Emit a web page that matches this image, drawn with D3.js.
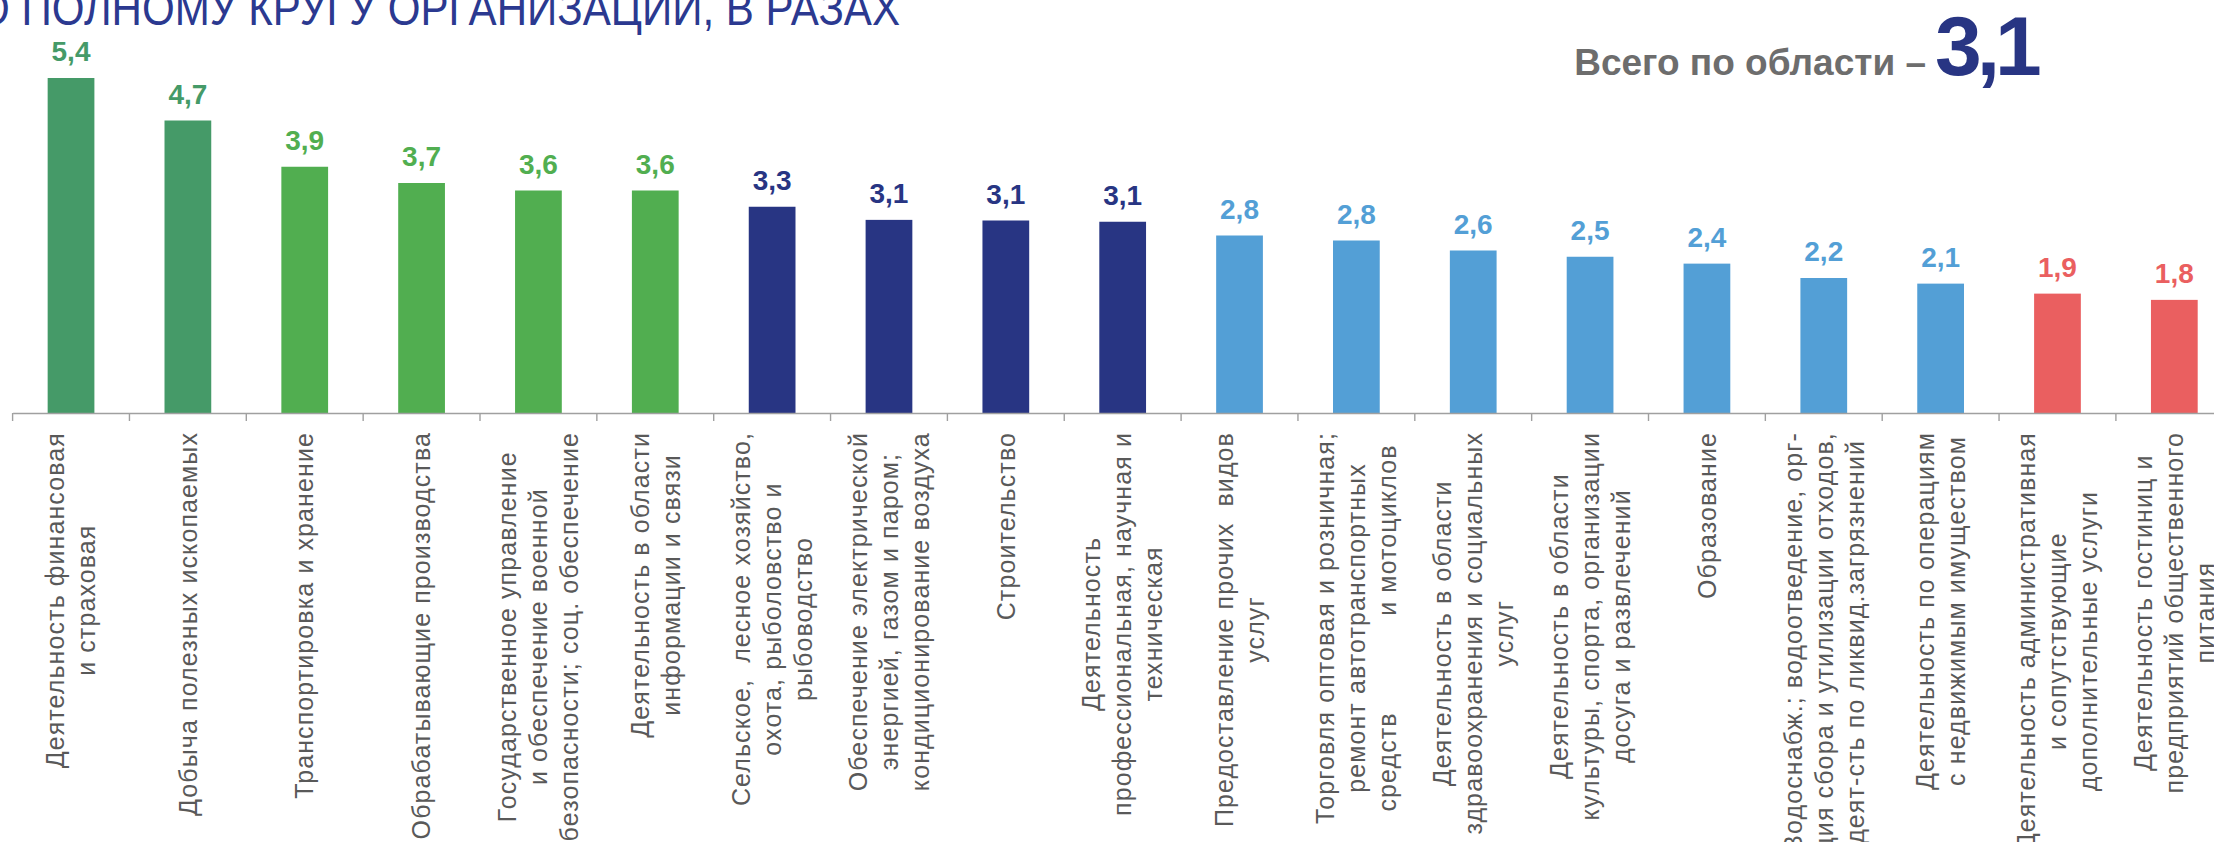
<!DOCTYPE html>
<html>
<head>
<meta charset="utf-8">
<script src="https://cdn.jsdelivr.net/npm/d3@7"></script>
<style>
  html, body { margin: 0; padding: 0; background: #fff; }
  svg { display: block; }
</style>
</head>
<body>
<div id="chart"></div>
<script>
// categories (lines of each axis label)
var categories = [
	"Деятельность финансовая\nи страховая",
	"Добыча полезных ископаемых",
	"Транспортировка и хранение",
	"Обрабатывающие производства",
	"Государственное управление\nи обеспечение военной\nбезопасности; соц. обеспечение",
	"Деятельность в области\nинформации и связи",
	"Сельское,  лесное хозяйство,\nохота, рыболовство и\nрыбоводство",
	"Обеспечение электрической\nэнергией, газом и паром;\nкондиционирование воздуха",
	"Строительство",
	"Деятельность\nпрофессиональная, научная и\nтехническая",
	"Предоставление прочих  видов\nуслуг",
	"Торговля оптовая и розничная;\nремонт автотранспортных\nсредств            и мотоциклов",
	"Деятельность в области\nздравоохранения и социальных\nуслуг",
	"Деятельность в области\nкультуры, спорта, организации\nдосуга и развлечений",
	"Образование",
	"Водоснабж.; водоотведение, орг-\nция сбора и утилизации отходов,\nдеят-сть по ликвид.загрязнений",
	"Деятельность по операциям\nс недвижимым имуществом",
	"Деятельность административная\nи сопутствующие\nдополнительные услуги",
	"Деятельность гостиниц и\nпредприятий общественного\nпитания"
];

// ratio, times
var values = [5.36, 4.68, 3.94, 3.68, 3.56, 3.56, 3.30, 3.09, 3.08, 3.06,
	2.84, 2.76, 2.60, 2.50, 2.39, 2.16, 2.07, 1.91, 1.81];

var groups = ["top", "top", "high", "high", "high", "high", "mid", "mid", "mid", "mid",
	"low", "low", "low", "low", "low", "low", "low", "bottom", "bottom"];

var totalValue = 3.1;
var titleText = "О ПОЛНОМУ КРУГУ ОРГАНИЗАЦИЙ, В РАЗАХ";
var totalText = "Всего по области –";

function init(){

	var w = 2214;
	var h = 842;
	var x0 = 12.6;
	var step = 116.85;
	var axisY = 413;

	var color = d3.scaleOrdinal()
		.domain(["top", "high", "mid", "low", "bottom"])
		.range(["#459a68", "#51ae50", "#283583", "#539fd6", "#ea5f60"]);

	var fmt = function(v) { return v.toFixed(1).replace(".", ","); };

	var svg = d3.select("#chart")
		.append("svg")
		.attr("width", w)
		.attr("height", h)
		.style("font-family", "'Liberation Sans', Arial, sans-serif");

	svg.append("rect").attr("width", w).attr("height", h).attr("fill", "#fff");

	var x = d3.scaleBand()
		.domain(d3.range(categories.length))
		.range([x0, x0 + step * categories.length])
		.paddingInner(0.6)
		.paddingOuter(0.3);

	var y = d3.scaleLinear()
		.domain([0, 6])
		.range([axisY, axisY - 6 * 62.5]);

	//title, cut by the top edge
	svg.append("text")
		.attr("x", -23)
		.attr("y", 25)
		.attr("textLength", 923)
		.attr("lengthAdjust", "spacingAndGlyphs")
		.style("font-family", "'Liberation Sans Narrow', 'Liberation Sans', Arial, sans-serif")
		.style("font-size", "49px")
		.attr("fill", "#2b3990")
		.text(titleText);

	//total for the region
	svg.append("text")
		.attr("x", 1926)
		.attr("y", 75)
		.attr("text-anchor", "end")
		.style("font-size", "37px")
		.style("font-weight", "bold")
		.attr("fill", "#6d6d6d")
		.text(totalText);

	svg.append("text")
		.attr("x", 1935)
		.attr("y", 75)
		.style("font-size", "84px")
		.style("font-weight", "bold")
		.style("letter-spacing", "-5px")
		.attr("fill", "#283583")
		.text(fmt(totalValue));

	//bars
	svg.selectAll("rect.bar")
		.data(values)
		.enter()
		.append("rect")
		.attr("class", "bar")
		.attr("x", function(d, i) { return x(i); })
		.attr("width", x.bandwidth())
		.attr("y", function(d) { return y(d); })
		.attr("height", function(d) { return y(0) - y(d); })
		.attr("fill", function(d, i) { return color(groups[i]); });

	//value labels
	svg.selectAll("text.value")
		.data(values)
		.enter()
		.append("text")
		.attr("class", "value")
		.attr("x", function(d, i) { return x(i) + x.bandwidth() / 2; })
		.attr("y", function(d) { return y(d) - 17; })
		.attr("text-anchor", "middle")
		.style("font-size", "28px")
		.style("font-weight", "bold")
		.attr("fill", function(d, i) { return color(groups[i]); })
		.text(fmt);

	//axis line
	var axis = svg.append("g")
		.attr("transform", "translate(0," + axisY + ")")
		.call(d3.axisBottom(x).tickSize(0).tickFormat(""));
	axis.select(".domain").attr("stroke", "#a0a0a0").attr("stroke-width", 1.4);

	//ticks between categories
	axis.selectAll("line.sep")
		.data(d3.range(categories.length + 1))
		.enter()
		.append("line")
		.attr("class", "sep")
		.attr("x1", function(k) { return x0 + k * x.step(); })
		.attr("x2", function(k) { return x0 + k * x.step(); })
		.attr("y1", 0)
		.attr("y2", 8)
		.attr("stroke", "#a0a0a0")
		.attr("stroke-width", 1.4);

	//rotated category labels
	var labels = svg.selectAll("g.label")
		.data(categories)
		.enter()
		.append("g")
		.attr("class", "label")
		.attr("transform", function(d, i) {
			return "translate(" + (x(i) + x.bandwidth() / 2) + "," + axisY + ") rotate(-90)";
		});

	labels.each(function(d) {
		var g = d3.select(this);
		var lines = d.split("\n");
		var n = lines.length;
		var texts = g.selectAll("text")
			.data(lines)
			.enter()
			.append("text")
			.attr("text-anchor", "middle")
			.attr("xml:space", "preserve")
			.style("white-space", "pre")
			.style("font-size", "25px")
			.style("letter-spacing", "1.1px")
			.attr("fill", "#595959")
			.attr("y", function(l, j) { return (j - (n - 1) / 2) * 31; })
			.attr("dy", "0.35em")
			.text(function(l) { return l; });
		var maxW = 0;
		texts.each(function() { maxW = Math.max(maxW, this.getComputedTextLength()); });
		texts.attr("x", -(19 + maxW / 2));
	});
}

window.onload = init;
</script>
</body>
</html>
